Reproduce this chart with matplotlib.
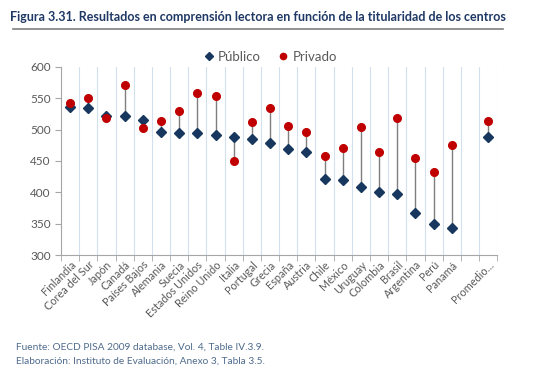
import numpy as np
import matplotlib.pyplot as plt
from matplotlib.lines import Line2D

plt.rcParams['font.family'] = ['Lato', 'DejaVu Sans']

# datos (PISA 2009, comprensión lectora)
paises = ['Finlandia', 'Corea del Sur', 'Japón', 'Canadá', 'Países Bajos',
          'Alemania', 'Suecia', 'Estados Unidos', 'Reino Unido', 'Italia',
          'Portugal', 'Grecia', 'España', 'Austria', 'Chile', 'México',
          'Uruguay', 'Colombia', 'Brasil', 'Argentina', 'Perú', 'Panamá',
          '', 'Promedio...']
publico = [536, 534, 522, 521, 515, 496, 494, 494, 491, 489, 485, 479,
           469, 465, 422, 420, 409, 400, 398, 367, 350, 343, np.nan, 488]
privado = [543, 550, 518, 572, 502, 514, 529, 559, 554, 450, 513, 535,
           506, 497, 458, 470, 505, 465, 519, 454, 433, 475, np.nan, 514]

NAVY = '#17375E'
RED = '#C00000'
GRIS = '#595959'

fig = plt.figure(figsize=(5.5, 3.68), dpi=100)
ax = fig.add_axes([0.111, 0.307, 0.793, 0.511])

x = np.arange(len(paises))
pub = np.array(publico, dtype=float)
pri = np.array(privado, dtype=float)

# lineas entre público y privado
ax.vlines(x, np.fmin(pub, pri), np.fmax(pub, pri), color='#7F7F7F', linewidth=1.0, zorder=2)
ax.plot(x, pub, linestyle='none', marker='D', color=NAVY, markersize=5, zorder=3)
ax.plot(x, pri, linestyle='none', marker='o', color=RED, markersize=5.5, zorder=4)

ax.set_xlim(-0.5, len(paises) - 0.5)
ax.set_ylim(300, 600)
ax.set_yticks(np.arange(300, 601, 50))
ax.set_xticks(x)
ax.set_xticklabels(paises, rotation=45, ha='right', rotation_mode='anchor', fontsize=7.8, color=GRIS)
ax.set_xticks(np.arange(-0.5, len(paises)), minor=True)
ax.tick_params(axis='x', which='major', length=0, pad=3)
ax.tick_params(axis='x', which='minor', length=4, color='#A6A6A6')
ax.tick_params(axis='y', labelsize=8.5, labelcolor=GRIS, length=4, color='#A6A6A6')
ax.grid(True, axis='x', which='minor', color='#D5E0EE', linewidth=0.8)
ax.set_axisbelow(True)
for s in ['top', 'right']:
    ax.spines[s].set_visible(False)
for s in ['left', 'bottom']:
    ax.spines[s].set_color('#A6A6A6')

handles = [Line2D([], [], linestyle='none', marker='D', color=NAVY, markersize=4, label='Público'),
           Line2D([], [], linestyle='none', marker='o', color=RED, markersize=4.5, label='Privado')]
leg = fig.legend(handles=handles, loc='center', bbox_to_anchor=(0.49, 0.845), ncol=2,
                 frameon=False, fontsize=9.5, handletextpad=0.2, columnspacing=1.2,
                 handlelength=1.0)
for t in leg.get_texts():
    t.set_color(GRIS)

fig.text(0.469, 0.953, 'Figura 3.31. Resultados en comprensión lectora en función de la titularidad de los centros',
         ha='center', va='center', fontsize=9.0, fontweight='bold', color='#1F3864')
fig.add_artist(Line2D([0.024, 0.915], [0.92, 0.92], color='#7F7F7F', linewidth=1.2))

fig.text(0.03, 0.057, 'Fuente: OECD PISA 2009 database, Vol. 4, Table IV.3.9.', fontsize=7.3,
         color='#4F6B8C', va='center')
fig.text(0.03, 0.018, 'Elaboración: Instituto de Evaluación, Anexo 3, Tabla 3.5.', fontsize=7.3,
         color='#4F6B8C', va='center')

fig.savefig('out.png', dpi=100)
